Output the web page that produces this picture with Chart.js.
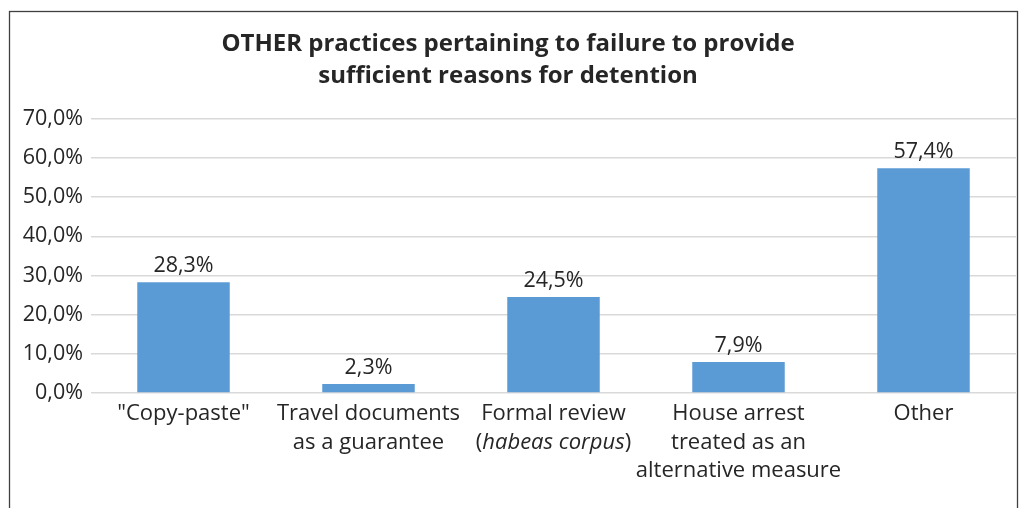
<!DOCTYPE html>
<html>
<head>
<meta charset="utf-8">
<script src="https://cdn.jsdelivr.net/npm/chart.js@4/dist/chart.umd.min.js"></script>
<style>
html,body{margin:0;padding:0;background:#fff;}
#wrap{width:1019px;height:508px;position:relative;}
</style>
</head>
<body>
<div id="wrap"><canvas id="c" width="1019" height="508"></canvas></div>
<script>
const titleLines = ["OTHER practices pertaining to failure to provide", "sufficient reasons for detention"];
const categories = ["\"Copy-paste\"", "Travel documents as a guarantee", "Formal review (habeas corpus)", "House arrest treated as an alternative measure", "Other"];
// each label line is a list of [text, italic] pieces
const categoryLines = [
  [[["\"Copy-paste\"", false]]],
  [[["Travel documents", false]], [["as a guarantee", false]]],
  [[["Formal review", false]], [["(", false], ["habeas corpus", true], [")", false]]],
  [[["House arrest", false]], [["treated as an", false]], [["alternative measure", false]]],
  [[["Other", false]]]
];
const values = [28.3, 2.3, 24.5, 7.9, 57.4];
const yTicks = [0, 10, 20, 30, 40, 50, 60, 70];

const FONT = "'Open Sans', sans-serif";
const TEXT = '#262626';
const fmt = v => v.toFixed(1).replace('.', ',') + '%';

const framePlugin = {
  id: 'frame',
  beforeDraw(chart) {
    const ctx = chart.ctx;
    ctx.save();
    ctx.strokeStyle = '#404040';
    ctx.lineWidth = 1.3;
    ctx.strokeRect(9.5, 11.5, 1008, 520);
    ctx.restore();
  }
};

const xLabelPlugin = {
  id: 'xlabels',
  afterDraw(chart) {
    const ctx = chart.ctx;
    const xs = chart.scales.x;
    ctx.save();
    ctx.fillStyle = TEXT;
    ctx.textBaseline = 'middle';
    ctx.textAlign = 'left';
    const lh = 28.5;
    categoryLines.forEach((lines, i) => {
      const cx = xs.getPixelForTick(i);
      lines.forEach((pieces, j) => {
        const y = xs.top + 21 + j * lh;
        let total = 0;
        const widths = pieces.map(([t, it]) => {
          ctx.font = (it ? 'italic ' : '') + '22px ' + FONT;
          const w = ctx.measureText(t).width;
          total += w;
          return w;
        });
        let x = cx - total / 2;
        pieces.forEach(([t, it], k) => {
          ctx.font = (it ? 'italic ' : '') + '22px ' + FONT;
          ctx.fillText(t, x, y);
          x += widths[k];
        });
      });
    });
    ctx.restore();
  }
};

const valueLabelPlugin = {
  id: 'valuelabels',
  afterDatasetsDraw(chart) {
    const ctx = chart.ctx;
    const meta = chart.getDatasetMeta(0);
    ctx.save();
    ctx.fillStyle = TEXT;
    ctx.font = '21.5px ' + FONT;
    ctx.textAlign = 'center';
    ctx.textBaseline = 'alphabetic';
    meta.data.forEach((bar, i) => {
      ctx.fillText(fmt(values[i]), bar.x, bar.y - 10);
    });
    ctx.restore();
  }
};

new Chart(document.getElementById('c'), {
  type: 'bar',
  data: {
    labels: categories,
    datasets: [{
      data: values,
      backgroundColor: '#5b9bd5',
      borderWidth: 0,
      categoryPercentage: 1.0,
      barPercentage: 0.5
    }]
  },
  options: {
    responsive: false,
    animation: false,
    devicePixelRatio: 1,
    layout: { padding: { top: 11, left: 0, right: 3, bottom: 0 } },
    plugins: {
      legend: { display: false },
      tooltip: { enabled: false },
      title: {
        display: true,
        text: titleLines,
        color: TEXT,
        font: { family: FONT, size: 24, weight: 'bold', lineHeight: 1.33 },
        padding: { top: 17, bottom: 27 }
      }
    },
    scales: {
      x: {
        grid: { display: false, drawTicks: false },
        border: { display: false },
        ticks: { display: false },
        afterFit(scale) { scale.height = 115; }
      },
      y: {
        min: 0,
        max: 70,
        afterBuildTicks(scale) { scale.ticks = yTicks.map(v => ({ value: v })); },
        grid: { color: '#d9d9d9', lineWidth: 1.5, drawTicks: false },
        border: { display: false },
        ticks: {
          color: TEXT,
          padding: 8,
          font: { family: FONT, size: 21.5 },
          callback: v => fmt(v)
        },
        afterFit(scale) { scale.width = 91; }
      }
    }
  },
  plugins: [framePlugin, xLabelPlugin, valueLabelPlugin]
});
</script>
</body>
</html>
